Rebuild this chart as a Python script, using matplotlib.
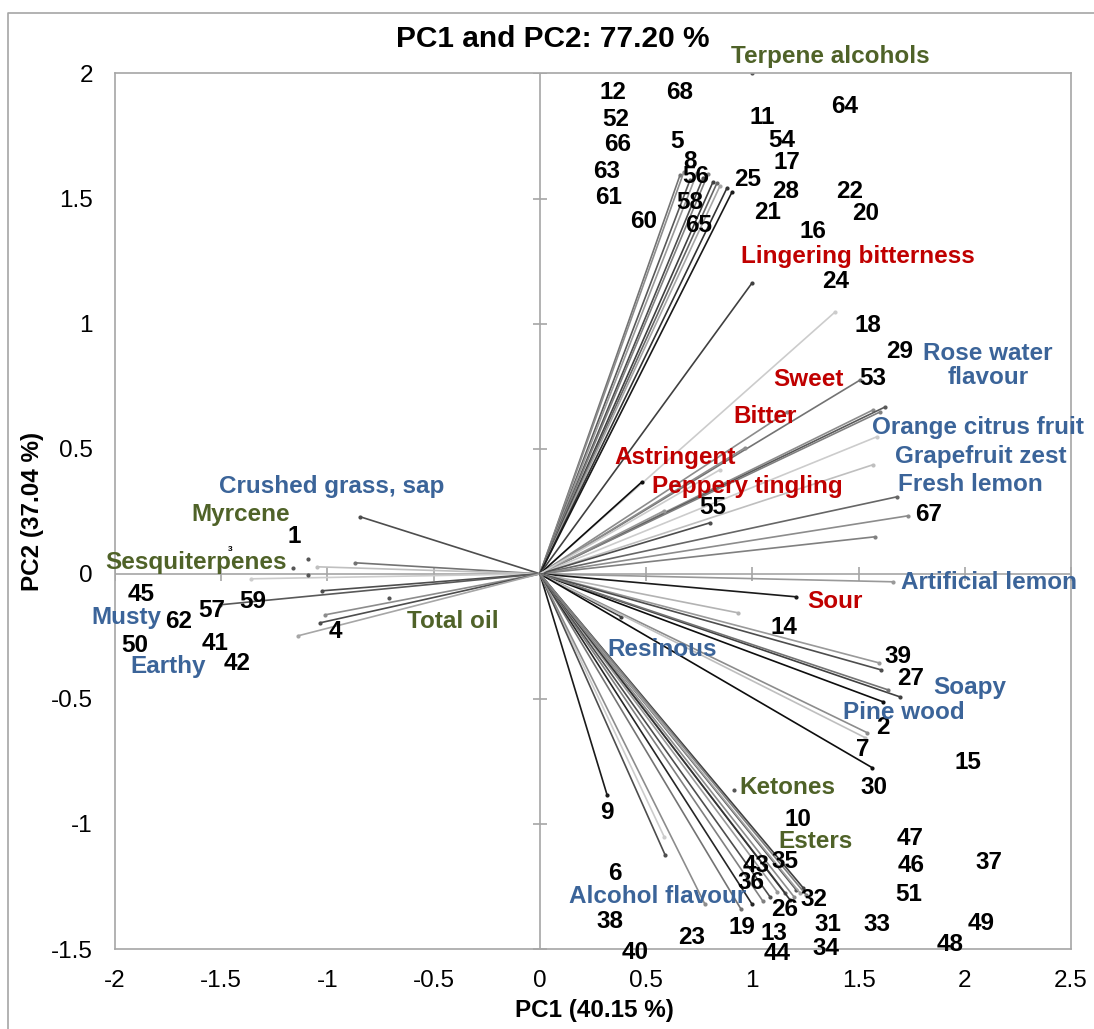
import matplotlib.pyplot as plt
from matplotlib.lines import Line2D

plt.rcParams['font.family'] = ['Liberation Sans', 'DejaVu Sans']

# loading vectors drawn from the origin (PC1, PC2) and their grey level
vec_x = [0.660, 0.678, 0.707, 0.740, 0.768, 0.792, 0.815, 0.834, 0.848, 0.881, 0.905,
         0.999, 1.390, 1.508, 1.568, 1.625, 1.601, 1.587, 1.568, 1.682, 1.734, 1.578,
         1.663, 1.164, 0.966, 0.481, 0.585, 0.801, 0.848,
         -0.846, -0.870, -1.049, -1.360, -1.025, -1.506, -1.011, -1.035, -1.139,
         1.206, 0.933, 0.382, 1.596, 1.606, 1.695, 1.616, 1.540, 1.531, 1.564, 1.639,
         0.316, 0.585, 0.589, 0.777, 0.947, 0.999, 1.050, 1.083, 1.117, 1.154, 1.177,
         1.196, 1.206, 1.224, 1.239, 1.253]
vec_y = [1.595, 1.607, 1.575, 1.603, 1.583, 1.599, 1.567, 1.563, 1.551, 1.543, 1.527,
         1.163, 1.047, 0.775, 0.655, 0.667, 0.647, 0.548, 0.436, 0.308, 0.232, 0.148,
         -0.032, 0.647, 0.504, 0.368, 0.252, 0.204, 0.416,
         0.228, 0.044, 0.028, -0.020, -0.068, -0.124, -0.164, -0.196, -0.248,
         -0.092, -0.156, -0.172, -0.356, -0.384, -0.492, -0.512, -0.635, -0.655, -0.775, -0.464,
         -0.883, -1.051, -1.123, -1.321, -1.341, -1.321, -1.309, -1.291, -1.271, -1.275, -1.303,
         -1.291, -1.263, -1.275, -1.255, -1.283]
vec_grey = [0.45, 0.55, 0.35, 0.6, 0.3, 0.5, 0.25, 0.4, 0.65, 0.2, 0.1,
            0.25, 0.8, 0.45, 0.55, 0.35, 0.5, 0.8, 0.75, 0.4, 0.55, 0.5,
            0.6, 0.55, 0.55, 0.05, 0.6, 0.3, 0.8,
            0.3, 0.45, 0.75, 0.8, 0.3, 0.35, 0.55, 0.3, 0.65,
            0.1, 0.7, 0.25, 0.6, 0.3, 0.25, 0.05, 0.55, 0.75, 0.05, 0.45,
            0.1, 0.8, 0.3, 0.55, 0.45, 0.15, 0.5, 0.3, 0.6, 0.4, 0.2,
            0.55, 0.35, 0.65, 0.25, 0.5]

# variables shown only as a point
dot_x = [0.999, 0.914, -1.090, -1.161, -0.710, -1.090]
dot_y = [2.002, -0.863, 0.060, 0.024, -0.096, -0.004]

# sample labels
obs_names = ['12', '68', '52', '66', '5', '8', '63', '56', '61', '58', '60', '65',
             '11', '54', '17', '25', '28', '21', '16', '64', '22', '20', '24', '18',
             '29', '53', '67', '55', '1', '45', '59', '57', '62', '50', '41', '42',
             '4', '14', '39', '27', '2', '7', '15', '30', '9', '10', '47', '46', '37',
             '43', '35', '6', '36', '32', '26', '51', '38', '19', '13', '31', '33',
             '49', '48', '23', '40', '44', '34']
obs_x = [0.345, 0.660, 0.359, 0.364, 0.646, 0.707, 0.312, 0.735, 0.321, 0.707, 0.486, 0.745,
         1.046, 1.140, 1.164, 0.980, 1.159, 1.070, 1.286, 1.436, 1.460, 1.535, 1.394, 1.545,
         1.691, 1.568, 1.828, 0.815, -1.157, -1.877, -1.350, -1.543, -1.699, -1.906, -1.528, -1.426,
         -0.964, 1.150, 1.686, 1.747, 1.616, 1.521, 2.016, 1.574, 0.316, 1.216, 1.742, 1.747, 2.114,
         1.018, 1.154, 0.354, 0.994, 1.291, 1.154, 1.738, 0.331, 0.952, 1.102, 1.356, 1.587,
         2.077, 1.931, 0.712, 0.448, 1.117, 1.347]
obs_y = [1.922, 1.922, 1.815, 1.715, 1.727, 1.647, 1.607, 1.587, 1.503, 1.483, 1.407, 1.391,
         1.823, 1.731, 1.643, 1.575, 1.527, 1.443, 1.367, 1.867, 1.527, 1.439, 1.167, 0.991,
         0.887, 0.779, 0.236, 0.264, 0.148, -0.084, -0.112, -0.148, -0.192, -0.288, -0.280, -0.360,
         -0.232, -0.216, -0.332, -0.420, -0.616, -0.703, -0.755, -0.855, -0.955, -0.983, -1.059, -1.167, -1.155,
         -1.167, -1.151, -1.199, -1.235, -1.303, -1.343, -1.283, -1.391, -1.415, -1.439, -1.403, -1.403,
         -1.399, -1.483, -1.455, -1.515, -1.519, -1.499]

# variable labels: taste (red), aroma (blue), chemistry (green)
var_names = ['Terpene alcohols', 'Lingering bitterness', 'Rose water\nflavour', 'Sweet', 'Bitter',
             'Orange citrus fruit', 'Grapefruit zest', 'Astringent', 'Peppery tingling',
             'Fresh lemon', 'Crushed grass, sap', 'Myrcene', 'Sesquiterpenes',
             'Artificial lemon', 'Sour', 'Musty', 'Total oil', 'Resinous', 'Earthy',
             'Soapy', 'Pine wood', 'Ketones', 'Esters', 'Alcohol flavour']
var_x = [1.366, 1.498, 2.110, 1.262, 1.060, 2.063, 2.077, 0.636, 0.976, 2.025, -0.978,
         -1.407, -1.619, 2.115, 1.390, -1.948, -0.409, 0.575, -1.750, 2.025, 1.714,
         1.164, 1.295, 0.552]
var_y = [2.066, 1.267, 0.831, 0.775, 0.627, 0.584, 0.468, 0.464, 0.348, 0.356, 0.348,
         0.236, 0.044, -0.036, -0.112, -0.176, -0.192, -0.304, -0.372, -0.456, -0.556,
         -0.855, -1.071, -1.291]
var_group = ['chem', 'taste', 'aroma', 'taste', 'taste', 'aroma', 'aroma', 'taste', 'taste',
             'aroma', 'aroma', 'chem', 'chem', 'aroma', 'taste', 'aroma', 'chem', 'aroma',
             'aroma', 'aroma', 'aroma', 'chem', 'chem', 'aroma']
group_color = {'taste': '#C00000', 'aroma': '#3B6499', 'chem': '#4F6228'}

xticks = [-2, -1.5, -1, -0.5, 0, 0.5, 1, 1.5, 2, 2.5]
yticks = [-1.5, -1, -0.5, 0, 0.5, 1, 1.5, 2]

fig = plt.figure(figsize=(10.94, 10.29), dpi=100)
ax = fig.add_axes([0.1051, 0.0777, 0.8739, 0.8509])
ax.set_xlim(-2, 2.5)
ax.set_ylim(-1.5, 2)

frame = '#A6A6A6'
for sp in ax.spines.values():
    sp.set_color(frame)
    sp.set_linewidth(1.2)

ax.set_xticks(xticks)
ax.set_yticks(yticks)
ax.set_xticklabels(['%g' % t for t in xticks])
ax.set_yticklabels(['%g' % t for t in yticks])
ax.tick_params(length=0, labelsize=17.5)
ax.tick_params(axis='x', pad=15)
ax.tick_params(axis='y', pad=16)

# axes through the origin with small tick marks
ax.axhline(0, color=frame, lw=1.2, zorder=1)
ax.axvline(0, color=frame, lw=1.2, zorder=1)
ax.plot([t for t in xticks if t != 0], [0] * (len(xticks) - 1), ls='none',
        marker='|', ms=10, mew=1.2, color=frame, zorder=1)
ax.plot([0] * (len(yticks) - 1), [t for t in yticks if t != 0], ls='none',
        marker='_', ms=10, mew=1.2, color=frame, zorder=1)

for x, y, g in zip(vec_x, vec_y, vec_grey):
    c = (g, g, g)
    ax.plot([0, x], [0, y], color=c, lw=1.2, solid_capstyle='butt', zorder=2)
    ax.plot(x, y, 'o', ms=2, color=c, zorder=2)

ax.plot(dot_x, dot_y, 'o', ms=2, color='#555555', ls='none', zorder=2)

for name, x, y in zip(obs_names, obs_x, obs_y):
    ax.text(x, y, name, fontsize=17.5, fontweight='bold', color='black',
            ha='center', va='center', zorder=3)
ax.text(-1.458, 0.096, '3', fontsize=6, fontweight='bold', ha='center', va='center')

for name, x, y, grp in zip(var_names, var_x, var_y, var_group):
    ax.text(x, y, name, fontsize=17.5, fontweight='bold', color=group_color[grp],
            ha='center', va='center', multialignment='center', linespacing=1.05,
            zorder=4)

fig.text(553 / 1094, 1 - 39 / 1029, 'PC1 and PC2: 77.20 %', fontsize=21.5,
         fontweight='bold', ha='center', va='center')
fig.text(594 / 1094, 1 - 1010 / 1029, 'PC1 (40.15 %)', fontsize=17.5,
         fontweight='bold', ha='center', va='center')
fig.text(33 / 1094, 1 - 511 / 1029, 'PC2 (37.04 %)', fontsize=17.5,
         fontweight='bold', ha='center', va='center', rotation=90)

# chart area border (top and left edges)
fig.add_artist(Line2D([8 / 1094, 8 / 1094, 1], [0, 1 - 13 / 1029, 1 - 13 / 1029],
                      color='#A6A6A6', lw=1.2, transform=fig.transFigure))

fig.savefig('out.png', dpi=100)
